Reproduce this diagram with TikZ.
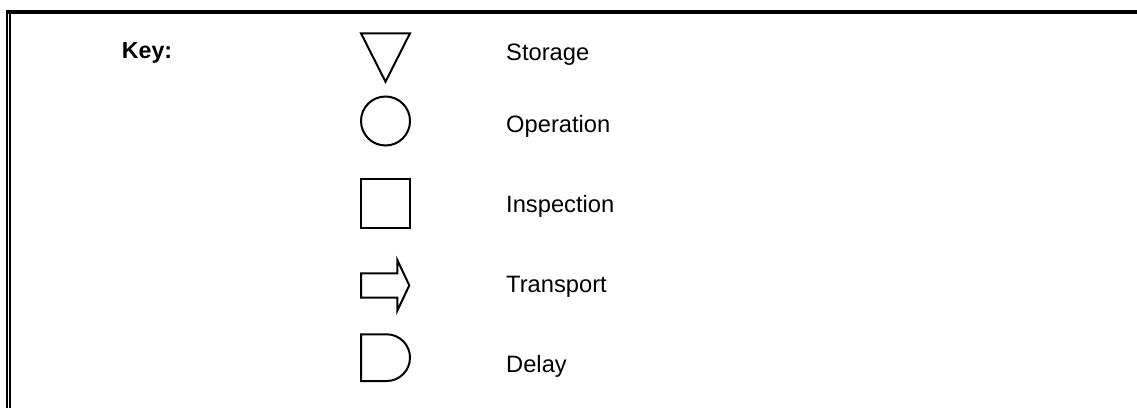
\documentclass[tikz,border=0pt]{standalone}
\usepackage{fontspec}
\setmainfont{Liberation Sans}
\begin{document}
\begin{tikzpicture}[x=1pt,y=1pt,
  sym/.style={draw=black,line width=2pt,line join=miter},
  lbl/.style={anchor=base west,inner sep=0pt,font=\fontsize{23.7}{28}\selectfont},
  keylbl/.style={anchor=base west,inner sep=0pt,font=\fontsize{23.2}{28}\selectfont\bfseries}]
\useasboundingbox (0,0) rectangle (1137,408);
% frame
\draw[line width=4pt] (6,396) -- (1137,396);
\draw[line width=1.5pt] (6.75,398) -- (6.75,0);
\draw[line width=2.5pt] (10,394) -- (10,0);
% key title
\node[keylbl] (key) at (121.7,349) {Key:};
% symbols
\coordinate (storage) at (385.5,350);
\draw[sym] (361,374.7) -- (410,374.7) -- (385.5,326.3) -- cycle;
\coordinate (operation) at (385.5,287);
\draw[sym] (operation) circle[radius=24.5];
\coordinate (inspection) at (385.5,204.2);
\draw[sym] (361,179.7) rectangle (410,228.7);
\coordinate (transport) at (385,122.5);
\draw[sym] (361,134.7) -- (397.3,134.7) -- (397.3,148) -- (409.3,122.6) -- (397.3,97.3) -- (397.3,110.3) -- (361,110.3) -- cycle;
\coordinate (delay) at (385,50.35);
\draw[sym] (386.65,73.7) -- (361,73.7) -- (361,27) -- (386.65,27) arc[start angle=-90,end angle=90,radius=23.35];
% labels
\node[lbl] (lstorage) at (506,348) {Storage};
\node[lbl] (loperation) at (506,276) {Operation};
\node[lbl] (linspection) at (506,196) {Inspection};
\node[lbl] (ltransport) at (506,116) {Transport};
\node[lbl] (ldelay) at (506,36) {Delay};
\end{tikzpicture}
\end{document}
